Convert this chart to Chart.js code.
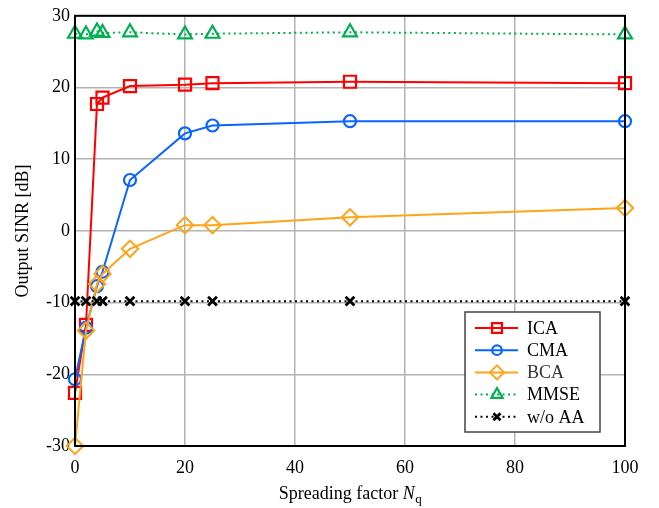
<!DOCTYPE html>
<html><head><meta charset="utf-8">
<script src="https://cdn.jsdelivr.net/npm/chart.js@4/dist/chart.umd.min.js"></script>
<style>html,body{margin:0;padding:0;background:#fff}#wrap{width:659px;height:508px}</style>
</head><body><div id="wrap"><canvas id="c" width="659" height="508"></canvas></div>
<script>
const spreading = [0, 2, 4, 5, 10, 20, 25, 50, 100];
const ica  = [-22.6, -13.1, 17.7, 18.6, 20.2, 20.4, 20.6, 20.8, 20.6];
const cma  = [-20.7, -13.5, -7.7, -5.7, 7.1, 13.6, 14.7, 15.3, 15.3];
const bca  = [-30.0, -13.9, -7.4, -6.0, -2.5, 0.8, 0.8, 1.9, 3.2];
const mmse = [27.5, 27.4, 27.8, 27.6, 27.7, 27.4, 27.5, 27.7, 27.4];
const woaa = [-9.8, -9.8, -9.8, -9.8, -9.8, -9.8, -9.8, -9.8, -9.8];
const names = ['ICA', 'CMA', 'BCA', 'MMSE', 'w/o AA'];
const xTicks = [0, 20, 40, 60, 80, 100];
const yTicks = [-30, -20, -10, 0, 10, 20, 30];

const FONT = '"Liberation Serif", "DejaVu Serif", serif';
const styles = [
  {c:'#ff0000', p:'rect', r:8.5, lr:7, dash:[], pw:2.2},
  {c:'#0a64ff', p:'circle', r:6, lr:4.8, dash:[], pw:2.2},
  {c:'#ffa31a', p:'rectRot', r:8.2, lr:7, dash:[], pw:2},
  {c:'#00b050', p:'triangle', r:8, lr:6.5, dash:[2,3.5], pw:2.2},
  {c:'#000000', p:'crossRot', r:6.2, lr:5, dash:[2,3.5], pw:2.8}
];
const series = [ica, cma, bca, mmse, woaa];
const datasets = series.map((s,i)=>({
  label: names[i],
  data: spreading.map((x,j)=>({x:x, y:s[j]})),
  borderColor: styles[i].c,
  backgroundColor: 'rgba(0,0,0,0)',
  borderWidth: 2,
  borderDash: styles[i].dash,
  pointStyle: styles[i].p,
  pointRadius: styles[i].r,
  pointBorderWidth: styles[i].pw,
  pointBorderColor: styles[i].c,
  pointBackgroundColor: 'rgba(0,0,0,0)',
  tension: 0,
  clip: false,
  order: 5 - i
}));

const framePlugin = {
  id: 'frame',
  afterDraw(chart){
    const ctx = chart.ctx, a = chart.chartArea;
    ctx.save();
    ctx.strokeStyle = '#000'; ctx.lineWidth = 2;
    ctx.strokeRect(a.left, a.top, a.right-a.left, a.bottom-a.top);
    // x title
    ctx.fillStyle = '#000';
    ctx.textBaseline = 'alphabetic';
    const y = 499;
    const p1 = 'Spreading factor ';
    ctx.font = '18px ' + FONT;
    const w1 = ctx.measureText(p1).width;
    ctx.font = 'italic 18px ' + FONT;
    const w2 = ctx.measureText('N').width;
    ctx.font = '13px ' + FONT;
    const w3 = ctx.measureText('q').width;
    const total = w1 + w2 + w3;
    let x0 = (a.left + a.right)/2 - total/2;
    ctx.textAlign = 'left';
    ctx.font = '18px ' + FONT; ctx.fillText(p1, x0, y);
    ctx.font = 'italic 18px ' + FONT; ctx.fillText('N', x0 + w1, y);
    ctx.font = '13px ' + FONT; ctx.fillText('q', x0 + w1 + w2 + 0.5, y + 4);
    // y title
    ctx.save();
    ctx.translate(28, (a.top + a.bottom)/2);
    ctx.rotate(-Math.PI/2);
    ctx.textAlign = 'center';
    ctx.font = '18px ' + FONT;
    ctx.fillText('Output SINR [dB]', 0, 0);
    ctx.restore();
    // legend
    const lx = 465, ly = 312, lw = 135, lh = 120;
    ctx.fillStyle = '#fff';
    ctx.fillRect(lx, ly, lw, lh);
    ctx.strokeStyle = '#444'; ctx.lineWidth = 1.5;
    ctx.strokeRect(lx, ly, lw, lh);
    names.forEach((n,i)=>{
      const st = styles[i];
      const ry = 328 + i*22.2;
      ctx.save();
      ctx.strokeStyle = st.c; ctx.lineWidth = 2;
      ctx.setLineDash(st.dash);
      ctx.beginPath(); ctx.moveTo(475, ry); ctx.lineTo(518, ry); ctx.stroke();
      ctx.restore();
      ctx.save();
      ctx.strokeStyle = st.c; ctx.fillStyle = 'rgba(0,0,0,0)'; ctx.lineWidth = st.pw;
      Chart.helpers.drawPoint(ctx, {pointStyle: st.p, radius: st.lr, borderWidth: st.pw}, 497, ry);
      ctx.restore();
      ctx.fillStyle = i===2 ? '#333' : '#000';
      ctx.font = '18px ' + FONT;
      ctx.textAlign = 'left'; ctx.textBaseline = 'middle';
      ctx.fillText(n, 527, ry + 1);
    });
    ctx.restore();
  }
};

new Chart(document.getElementById('c'), {
  type: 'line',
  data: { datasets },
  options: {
    responsive: false,
    animation: false,
    devicePixelRatio: 1,
    layout: { padding: { left: 0, right: 34, top: 13, bottom: 0 } },
    plugins: { legend: { display: false }, tooltip: { enabled: false } },
    scales: {
      x: {
        type: 'linear', min: 0, max: 100,
        afterBuildTicks: s => { s.ticks = xTicks.map(v=>({value:v})); },
        afterFit: s => { s.height = 62; },
        grid: { color: '#b3b3b3', lineWidth: 1.5, drawTicks: false },
        border: { display: false },
        ticks: { color: '#000', font: { family: FONT, size: 18 }, padding: 11, maxRotation: 0 }
      },
      y: {
        type: 'linear', min: -30, max: 30,
        afterBuildTicks: s => { s.ticks = yTicks.map(v=>({value:v})); },
        afterFit: s => { s.width = 75; },
        grid: { color: '#b3b3b3', lineWidth: 1.5, drawTicks: false },
        border: { display: false },
        ticks: { color: '#000', font: { family: FONT, size: 18 }, padding: 5 }
      }
    }
  },
  plugins: [framePlugin]
});
</script></body></html>
